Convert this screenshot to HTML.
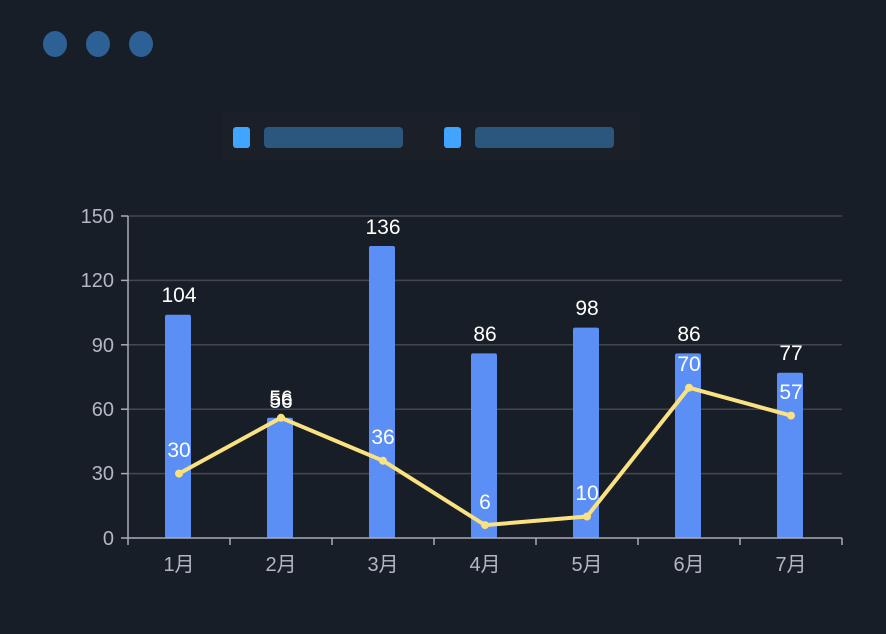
<!DOCTYPE html>
<html><head><meta charset="utf-8"><style>
html,body{margin:0;padding:0;background:#181e27;}
svg{display:block;font-family:"Liberation Sans","Noto Sans CJK SC",sans-serif;}
</style></head><body>
<svg width="886" height="634" viewBox="0 0 886 634">
<rect width="886" height="634" fill="#181e27"/>
<ellipse cx="55" cy="44" rx="12" ry="13" fill="#2d6095"/>
<ellipse cx="98" cy="44" rx="12" ry="13" fill="#2d6095"/>
<ellipse cx="141" cy="44" rx="12" ry="13" fill="#2d6095"/>
<rect x="222" y="113" width="418" height="47" fill="#1a1f28"/>
<rect x="233" y="127" width="17" height="21" rx="3" fill="#41a5ff"/>
<rect x="264" y="127" width="139" height="21" rx="4" fill="#2b577f"/>
<rect x="444" y="127" width="17" height="21" rx="3" fill="#41a5ff"/>
<rect x="475" y="127" width="139" height="21" rx="4" fill="#2b577f"/>
<g stroke="#45474f" stroke-width="1.5">
<line x1="128" y1="216" x2="842" y2="216"/>
<line x1="128" y1="280.4" x2="842" y2="280.4"/>
<line x1="128" y1="344.8" x2="842" y2="344.8"/>
<line x1="128" y1="409.2" x2="842" y2="409.2"/>
<line x1="128" y1="473.6" x2="842" y2="473.6"/>
</g>
<g fill="#5b8ff5">
<rect x="165" y="314.7" width="26" height="223.3" rx="2"/>
<rect x="267" y="417.8" width="26" height="120.2" rx="2"/>
<rect x="369" y="246" width="26" height="292" rx="2"/>
<rect x="471" y="353.4" width="26" height="184.6" rx="2"/>
<rect x="573" y="327.6" width="26" height="210.4" rx="2"/>
<rect x="675" y="353.4" width="26" height="184.6" rx="2"/>
<rect x="777" y="372.7" width="26" height="165.3" rx="2"/>
</g>
<g stroke="#a9abb8" stroke-width="1.5">
<line x1="128" y1="216" x2="128" y2="545"/>
<line x1="121" y1="538" x2="842" y2="538"/>
<line x1="121" y1="216" x2="128" y2="216"/><line x1="121" y1="280.4" x2="128" y2="280.4"/>
<line x1="121" y1="344.8" x2="128" y2="344.8"/><line x1="121" y1="409.2" x2="128" y2="409.2"/>
<line x1="121" y1="473.6" x2="128" y2="473.6"/>
<line x1="230" y1="538" x2="230" y2="545"/><line x1="332" y1="538" x2="332" y2="545"/>
<line x1="434" y1="538" x2="434" y2="545"/><line x1="536" y1="538" x2="536" y2="545"/>
<line x1="638" y1="538" x2="638" y2="545"/><line x1="740" y1="538" x2="740" y2="545"/>
<line x1="842" y1="538" x2="842" y2="545"/>
</g>
<g fill="#b4b6c4" font-size="20" text-anchor="end">
<text x="114" y="223">150</text><text x="114" y="287">120</text>
<text x="114" y="352">90</text><text x="114" y="416">60</text>
<text x="114" y="480">30</text><text x="114" y="545">0</text>
</g>
<g fill="#b4b6c4" font-size="20" text-anchor="middle">
<text x="179" y="571">1月</text><text x="281" y="571">2月</text><text x="383" y="571">3月</text>
<text x="485" y="571">4月</text><text x="587" y="571">5月</text><text x="689" y="571">6月</text>
<text x="791" y="571">7月</text>
</g>
<polyline points="179,473.6 281,417.8 383,460.7 485,525.1 587,516.5 689,387.7 791,415.6" fill="none" stroke="#fbe280" stroke-width="4" stroke-linejoin="round"/>
<g fill="#fbe280">
<circle cx="179" cy="473.6" r="4"/><circle cx="281" cy="417.8" r="4"/><circle cx="383" cy="460.7" r="4"/>
<circle cx="485" cy="525.1" r="4"/><circle cx="587" cy="516.5" r="4"/><circle cx="689" cy="387.7" r="4"/>
<circle cx="791" cy="415.6" r="4"/>
</g>
<g fill="#ffffff" font-size="21" text-anchor="middle">
<text x="179" y="302">104</text><text x="281" y="405">56</text><text x="383" y="234">136</text>
<text x="485" y="341">86</text><text x="587" y="315">98</text><text x="689" y="341">86</text>
<text x="791" y="360">77</text>
<text x="179" y="457">30</text><text x="281" y="408">56</text><text x="383" y="444">36</text>
<text x="485" y="509">6</text><text x="587" y="500">10</text><text x="689" y="371">70</text>
<text x="791" y="399">57</text>
</g>
</svg>
</body></html>
